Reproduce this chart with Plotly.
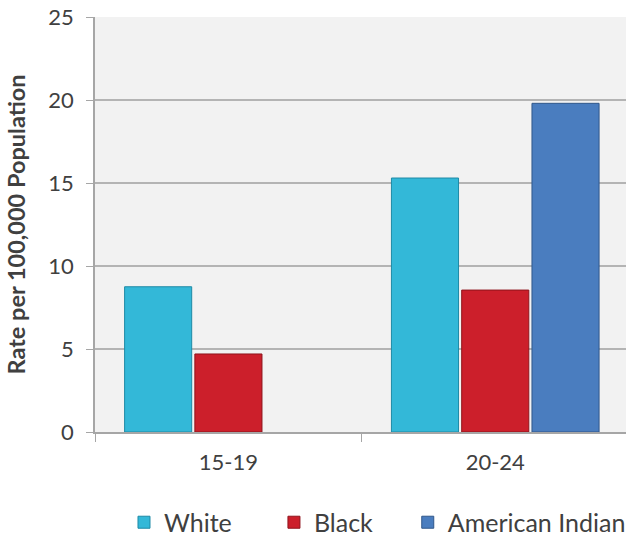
import plotly.graph_objects as go

categories = ["15-19", "20-24"]
white = [8.75, 15.3]
black = [4.7, 8.55]
american_indian = [None, 19.8]
series_names = ["White", "Black", "American Indian"]
y_ticks = [0, 5, 10, 15, 20, 25]

colors = ["#33b8d8", "#cc1f2b", "#4a7dbf"]
edge = ["#1e8aa6", "#8f141c", "#30578a"]
legend_ids = ["legend", "legend2", "legend3"]
legend_x = [0.0546, 0.337, 0.589]

FONT = "Lato"
fig = go.Figure()
for name, vals, c, e, lg in zip(series_names, [white, black, american_indian], colors, edge, legend_ids):
    fig.add_trace(go.Bar(
        x=categories, y=vals, name=name, legend=lg,
        marker=dict(color=c, line=dict(color=e, width=1)),
    ))

legend_common = dict(
    orientation="h", xanchor="left", y=-0.218, yanchor="middle",
    font=dict(size=25, color="#404040"), bgcolor="rgba(0,0,0,0)",
)

fig.update_layout(
    width=626, height=540,
    margin=dict(l=95, r=0, t=17, b=108, autoexpand=False),
    paper_bgcolor="white",
    plot_bgcolor="#f2f2f2",
    barmode="group",
    bargap=0.21,
    bargroupgap=0.045,
    font=dict(family=FONT, color="#404040", size=22),
    showlegend=True,
    legend=dict(x=legend_x[0], **legend_common),
    legend2=dict(x=legend_x[1], **legend_common),
    legend3=dict(x=legend_x[2], **legend_common),
    xaxis=dict(
        type="category",
        range=[-0.5, 1.49],
        tickson="boundaries",
        ticks="outside", ticklen=8, tickcolor="#a6a6a6",
        showline=True, linecolor="#a6a6a6", linewidth=1.5,
        showgrid=False,
        ticklabelstandoff=10,
        tickfont=dict(size=22, color="#404040"),
    ),
    yaxis=dict(
        range=[0, 25],
        tickvals=y_ticks,
        ticks="outside", ticklen=7, tickcolor="#a6a6a6",
        showline=True, linecolor="#a6a6a6", linewidth=1.5,
        showgrid=True, gridcolor="#b4b4b4", gridwidth=1.5,
        zeroline=False,
        ticklabelstandoff=8,
        ticklabeloverflow="allow",
        tickfont=dict(size=22, color="#404040"),
        title=dict(text="<b>Rate per 100,000 Population</b>", font=dict(size=23.5, color="#404040"), standoff=16),
    ),
)

fig.write_html("out.html", config={"displayModeBar": False},
               post_script="document.body.style.margin='0';")
